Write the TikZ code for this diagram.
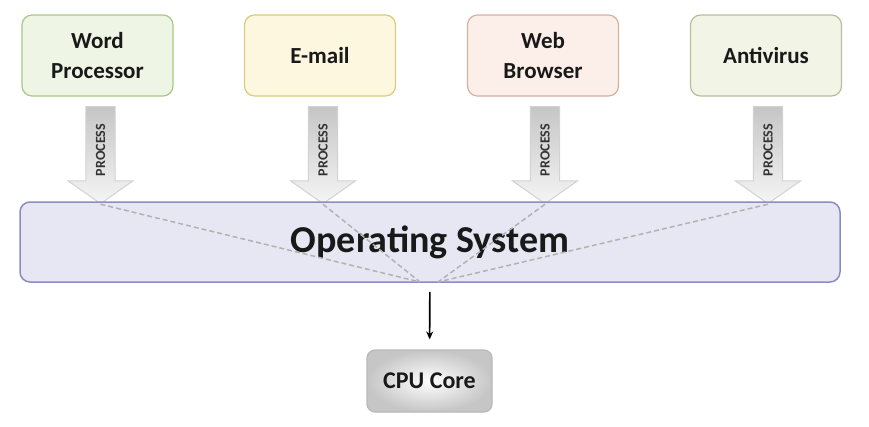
\documentclass[tikz,border=0pt]{standalone}
\usepackage{fontspec}
\setmainfont{Carlito}
\usetikzlibrary{shapes.arrows, arrows.meta}
\definecolor{wordfill}{HTML}{EEF5E4}
\definecolor{worddraw}{HTML}{A8C88C}
\definecolor{mailfill}{HTML}{FDF7DF}
\definecolor{maildraw}{HTML}{D9CB7E}
\definecolor{webfill}{HTML}{FCEFE9}
\definecolor{webdraw}{HTML}{D4B1A3}
\definecolor{avfill}{HTML}{F2F4E6}
\definecolor{avdraw}{HTML}{B5BF9C}
\definecolor{osfill}{HTML}{E7E7F4}
\definecolor{osdraw}{HTML}{8C8CC4}
\begin{document}
\begin{tikzpicture}[x=1pt, y=-1pt,
	app/.style={draw, line width=1.2pt, rounded corners=10pt, minimum width=151pt, minimum height=81pt, align=center, font=\fontsize{23}{30}\selectfont\bfseries, text=black!90},
	proc/.style={single arrow, rotate=90, shape border rotate=180, draw=gray!35, line width=1pt, top color=gray!45, bottom color=gray!8, minimum height=97pt, single arrow head extend=18pt, single arrow tip angle=110, inner xsep=2pt, inner ysep=9.5pt, font=\fontsize{14}{14}\selectfont\bfseries, text=black!80},
	link/.style={dash pattern=on 5pt off 3pt, gray!60, line width=1.5pt},
]
	\useasboundingbox (0, 0) rectangle (869, 426);
	\node[app, fill=wordfill, draw=worddraw](A) at (97.5, 55.5){Word\\Processor};
	\node[app, fill=mailfill, draw=maildraw](B) at (320, 55.5){E-mail};
	\node[app, fill=webfill, draw=webdraw](C) at (543, 55.5){Web\\Browser};
	\node[app, fill=avfill, draw=avdraw](D) at (766, 55.5){Antivirus};
	\node[proc](E) at (100.5, 150){PROCESS};
	\node[proc](F) at (323, 150){PROCESS};
	\node[proc](G) at (545, 150){PROCESS};
	\node[proc](H) at (768, 150){PROCESS};
	\node[draw=osdraw, fill=osfill, line width=1.5pt, rounded corners=10pt, minimum width=820pt, minimum height=80pt, font=\fontsize{38}{44}\selectfont\bfseries, text=black!90](O) at (430, 242){Operating System};
	\node[draw=gray!55, line width=1.2pt, rounded corners=8pt, inner color=white, outer color=gray!45, minimum width=125pt, minimum height=62pt, font=\fontsize{24}{28}\selectfont\bfseries, text=black!90](K) at (429.5, 381){CPU Core};
	\coordinate(L) at (420, 282);
	\coordinate(R) at (438, 282);

	\draw [link] (E.tip) -- (L);
	\draw [link] (F.tip) -- (L);
	\draw [link] (G.tip) -- (R);
	\draw [link] (H.tip) -- (R);
	\draw [-{Stealth[length=8pt, width=7pt]}, line width=1.6pt, shorten <=9pt, shorten >=10pt] (O) -- (K);
\end{tikzpicture}
\end{document}
